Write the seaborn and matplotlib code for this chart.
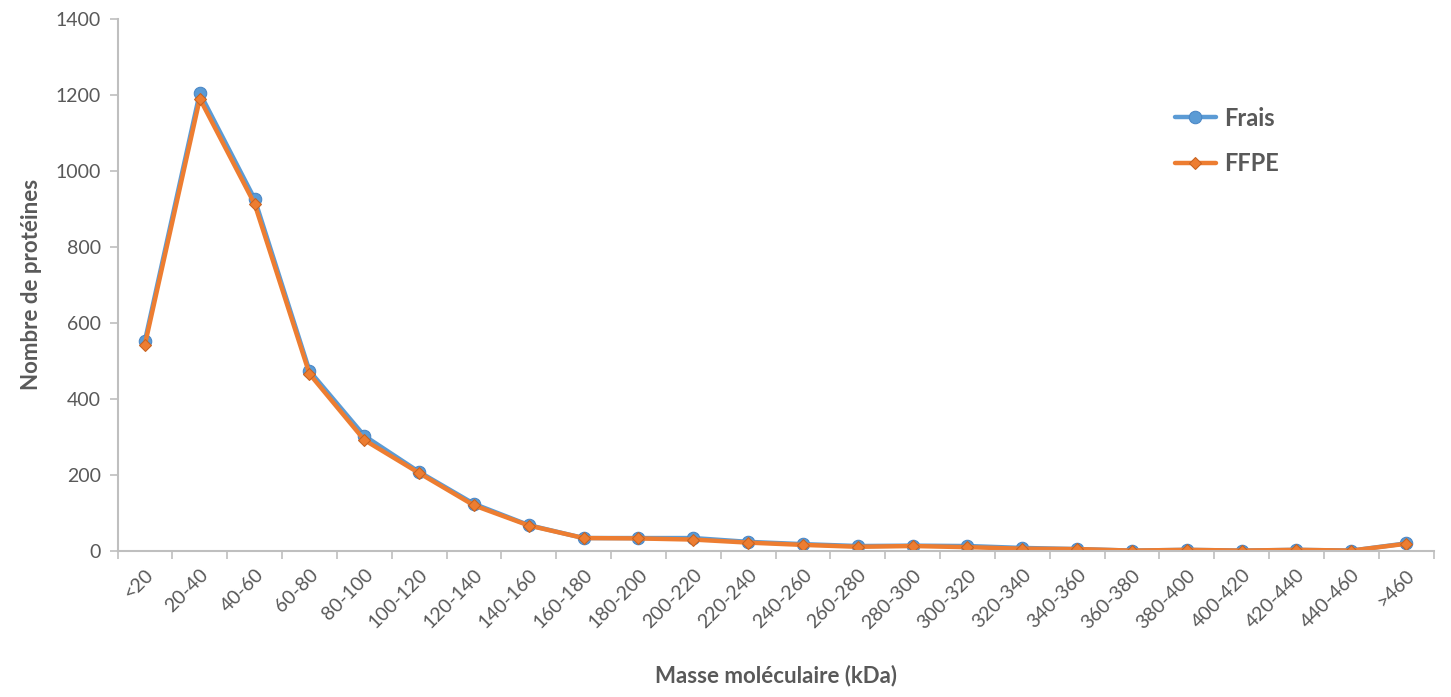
import pandas as pd
import seaborn as sns
import matplotlib.pyplot as plt

# Categories (molecular mass bins, kDa)
categories = ['<20', '20-40', '40-60', '60-80', '80-100', '100-120', '120-140',
              '140-160', '160-180', '180-200', '200-220', '220-240', '240-260',
              '260-280', '280-300', '300-320', '320-340', '340-360', '360-380',
              '380-400', '400-420', '420-440', '440-460', '>460']

# Protein counts
frais = [553, 1205, 926, 474, 303, 208, 124, 68, 34, 34, 34, 24, 18, 13,
         14, 13, 8, 5, 1, 3, 1, 3, 1, 20]
ffpe = [543, 1190, 913, 466, 292, 205, 120, 67, 34, 33, 30, 22, 16, 11,
        13, 10, 6, 5, 1, 3, 1, 3, 1, 19]

df = pd.DataFrame({
    'pos': list(range(len(categories))) * 2,
    'count': frais + ffpe,
    'serie': ['Frais'] * len(frais) + ['FFPE'] * len(ffpe),
})

sns.set_style('white')
plt.rcParams['font.family'] = ['Lato', 'DejaVu Sans']

gray = '#595959'
fig = plt.figure(figsize=(14.51, 6.97), dpi=100)
ax = fig.add_axes([0.081, 0.2095, 0.907, 0.7635])

sns.lineplot(data=df, x='pos', y='count', hue='serie', style='serie',
             palette={'Frais': '#5B9BD5', 'FFPE': '#ED7D31'},
             markers={'Frais': 'o', 'FFPE': 'D'}, dashes=False,
             markersize=8, linewidth=3.2, ax=ax, legend=True)
edge = {'Frais': '#4A86C5', 'FFPE': '#C8621F'}
size = {'Frais': 9, 'FFPE': 6.5}
for line, name in zip(ax.lines[:2], ['Frais', 'FFPE']):
    line.set_markeredgecolor(edge[name])
    line.set_markersize(size[name])

ax.set_xlim(-0.5, len(categories) - 0.5)
ax.set_ylim(0, 1400)
ax.set_yticks(range(0, 1401, 200))
ax.set_xticks(range(len(categories)))
ax.set_xticklabels(categories, rotation=45, ha='right', rotation_mode='anchor')
ax.set_xticks([i - 0.5 for i in range(len(categories) + 1)], minor=True)
ax.tick_params(axis='x', which='major', length=0, pad=11, labelsize=14, labelcolor=gray)
ax.tick_params(axis='x', which='minor', length=6, width=1.2, color='#BFBFBF', direction='out', bottom=True)
ax.tick_params(axis='y', length=6, width=1.2, color='#BFBFBF', direction='out', left=True,
               labelsize=14, labelcolor=gray, pad=6)

for side in ['top', 'right']:
    ax.spines[side].set_visible(False)
for side in ['left', 'bottom']:
    ax.spines[side].set_color('#BFBFBF')
    ax.spines[side].set_linewidth(1.5)

ax.set_xlabel('Masse moléculaire (kDa)', fontsize=16, fontweight='bold', color=gray, labelpad=24)
ax.set_ylabel('Nombre de protéines', fontsize=16, fontweight='bold', color=gray, labelpad=10)

handles, labels = ax.get_legend_handles_labels()
for h, name in zip(handles, labels):
    h.set_markeredgecolor(edge[name])
    h.set_markersize(size[name])
    h.set_linewidth(3.2)
leg = ax.legend(handles, labels, loc='upper left', bbox_to_anchor=(0.787, 0.875),
                frameon=False, labelspacing=0.95, handlelength=1.75, handletextpad=0.35,
                prop={'size': 17, 'weight': 'bold'})
for t in leg.get_texts():
    t.set_color(gray)

fig.savefig('out.png', dpi=100)
